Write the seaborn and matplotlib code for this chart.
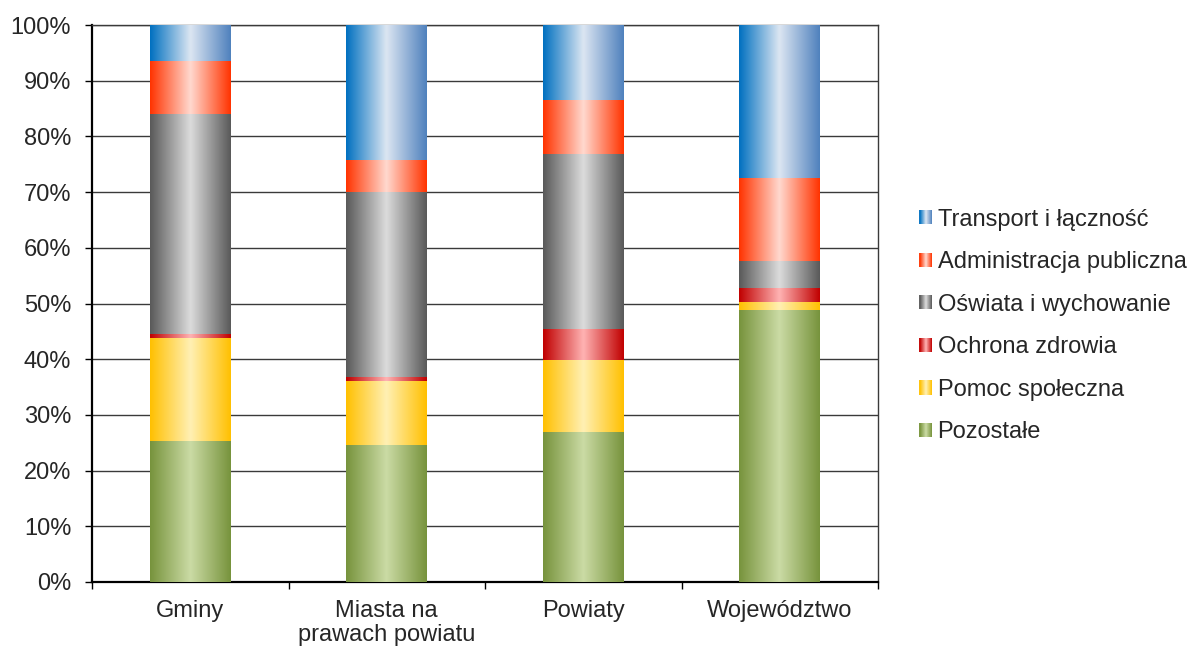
import numpy as np
import pandas as pd
import matplotlib
matplotlib.use("Agg")
import matplotlib.pyplot as plt
import seaborn as sns
from matplotlib.colors import LinearSegmentedColormap
from matplotlib.patches import Rectangle
from matplotlib.legend_handler import HandlerBase
from matplotlib.ticker import FixedLocator, PercentFormatter

# ---- data (shares in %) ----
categories = ["Gminy", "Miasta na\nprawach powiatu", "Powiaty", "Województwo"]
series_names = ["Pozostałe", "Pomoc społeczna", "Ochrona zdrowia",
                "Oświata i wychowanie", "Administracja publiczna", "Transport i łączność"]
pozostale = [25.4, 24.6, 27.0, 48.9]
pomoc = [18.4, 11.4, 12.9, 1.3]
ochrona = [0.7, 0.8, 5.5, 2.5]
oswiata = [39.5, 33.2, 31.4, 4.9]
administracja = [9.5, 5.7, 9.8, 14.9]
transport = [6.5, 24.3, 13.4, 27.5]
yticks = [0, 10, 20, 30, 40, 50, 60, 70, 80, 90, 100]

series_values = [pozostale, pomoc, ochrona, oswiata, administracja, transport]

# gradient colours: left edge, centre, right edge
gradients = {
    "Pozostałe": ["#77933C", "#CBDBA5", "#77933C"],
    "Pomoc społeczna": ["#FFC000", "#FFF0B4", "#FFC000"],
    "Ochrona zdrowia": ["#C00000", "#FFB3B3", "#C00000"],
    "Oświata i wychowanie": ["#595959", "#DCDCDC", "#595959"],
    "Administracja publiczna": ["#FF3300", "#FFD9CF", "#FF3300"],
    "Transport i łączność": ["#0070C0", "#DCE6F2", "#4F81BD"],
}

sns.set_theme(style="white")
plt.rcParams["font.family"] = ["Liberation Sans", "DejaVu Sans"]
plt.rcParams["font.size"] = 17

fig = plt.figure(figsize=(11.9, 6.49), dpi=100)
ax = fig.add_axes([92 / 1190, 1 - 582 / 649, (878 - 92) / 1190, (582 - 25) / 649])

bottoms = np.zeros(len(categories))
cmaps = {}
for name, vals in zip(series_names, series_values):
    c = gradients[name]
    cmap = LinearSegmentedColormap.from_list(name, c)
    cmaps[name] = cmap
    n_before = len(ax.patches)
    sns.barplot(x=categories, y=vals, bottom=bottoms, color=c[0], width=0.41,
                ax=ax, saturation=1, linewidth=0, zorder=3, order=categories)
    new_patches = ax.patches[n_before:]
    grad = np.linspace(0, 1, 256).reshape(1, -1)
    for p in new_patches:
        x0, y0, w, h = p.get_x(), p.get_y(), p.get_width(), p.get_height()
        im = ax.imshow(grad, cmap=cmap, extent=[x0, x0 + w, y0, y0 + h],
                       aspect="auto", zorder=3.5, interpolation="bicubic")
        im.set_clip_path(p)
    bottoms = bottoms + np.array(vals)

ax.set_xlim(-0.5, len(categories) - 0.5)
ax.set_ylim(0, 100)
ax.set_yticks(yticks)
ax.yaxis.set_major_formatter(PercentFormatter(decimals=0))
ax.grid(axis="y", color="#3a3a3a", linewidth=1.0, zorder=0)
ax.grid(axis="x", visible=False)
ax.set_axisbelow(True)

# x: tick marks at category boundaries, labels at centres
ax.xaxis.set_major_locator(FixedLocator(np.arange(-0.5, len(categories), 1.0)))
ax.set_xticklabels([])
ax.xaxis.set_minor_locator(FixedLocator(np.arange(len(categories))))
ax.set_xticklabels(categories, minor=True)
ax.tick_params(axis="x", which="major", direction="out", length=5, width=1,
               color="black", bottom=True)
ax.tick_params(axis="x", which="minor", length=0, pad=13, labelsize=17)
ax.tick_params(axis="y", direction="out", length=5, width=1, color="black",
               left=True, pad=10, labelsize=17)
for lbl in ax.get_xticklabels(minor=True):
    lbl.set_linespacing(1.12)
    lbl.set_ha("center")

for s in ["left", "bottom"]:
    ax.spines[s].set_color("black")
    ax.spines[s].set_linewidth(1.6)
for s in ["top", "right"]:
    ax.spines[s].set_color("#3a3a3a")
    ax.spines[s].set_linewidth(1.0)
ax.set_xlabel("")
ax.set_ylabel("")


class GradientHandler(HandlerBase):
    def __init__(self, cmap, **kw):
        super().__init__(**kw)
        self.cmap = cmap

    def create_artists(self, legend, orig_handle, xdescent, ydescent,
                       width, height, fontsize, trans):
        n = 12
        arts = []
        for i in range(n):
            r = Rectangle((-xdescent + width * i / n, -ydescent), width / n + 0.05, height,
                          facecolor=self.cmap((i + 0.5) / n), edgecolor="none",
                          transform=trans)
            arts.append(r)
        return arts


handles, labels, hmap = [], [], {}
for name in reversed(series_names):
    h = Rectangle((0, 0), 1, 1)
    handles.append(h)
    labels.append(name)
    hmap[h] = GradientHandler(cmaps[name])

fig.legend(handles, labels, handler_map=hmap, loc="center left",
           bbox_to_anchor=(910 / 1190, 1 - 326 / 649), frameon=False,
           fontsize=17, handlelength=0.55, handleheight=0.55,
           handletextpad=0.22, labelspacing=0.87, borderaxespad=0)

fig.savefig("out.png", dpi=100)
